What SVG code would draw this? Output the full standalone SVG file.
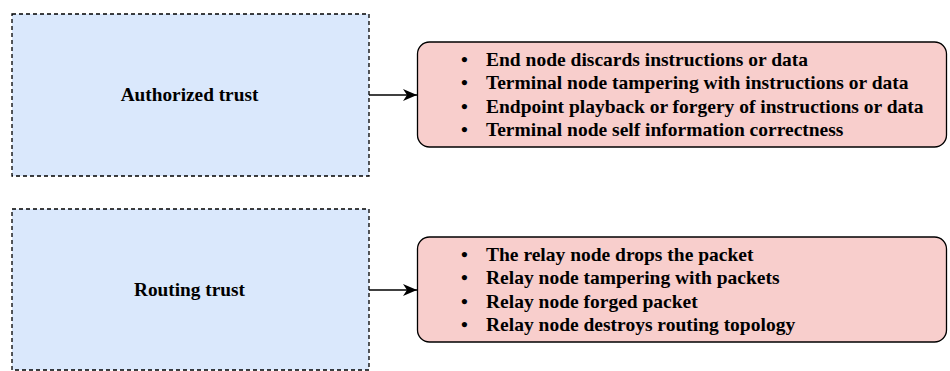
<svg xmlns="http://www.w3.org/2000/svg" width="950" height="371" viewBox="0 0 950 371">
  <defs>
    <style>
      .trust { fill: #dae8fc; stroke: #000000; stroke-width: 1.3; stroke-dasharray: 4 3; }
      .threat { fill: #f8cecc; stroke: #000000; stroke-width: 1.3; }
      .title { font-family: "Liberation Serif", "Times New Roman", serif; font-weight: bold; font-size: 19.3px; fill: #000000; text-anchor: middle; }
      .item { font-family: "Liberation Serif", "Times New Roman", serif; font-weight: bold; font-size: 19.5px; fill: #000000; }
      .conn { stroke: #000000; stroke-width: 1.3; fill: none; }
    </style>
    <marker id="arrow" markerWidth="16" markerHeight="14" refX="14" refY="7" orient="auto" markerUnits="userSpaceOnUse">
      <path d="M0,1 L14,7 L0,13 L4,7 Z" fill="#000000"/>
    </marker>
  </defs>

  <g id="authorized-trust">
    <rect class="trust" x="12" y="14" width="357" height="162"/>
    <text class="title" x="189.5" y="101">Authorized trust</text>
  </g>

  <g id="authorized-threats">
    <rect class="threat" x="417.5" y="42" width="529" height="105" rx="12" ry="12"/>
    <text class="item">
      <tspan x="461" y="66">•</tspan><tspan x="486" y="66">End node discards instructions or data</tspan>
      <tspan x="461" y="89">•</tspan><tspan x="486" y="89">Terminal node tampering with instructions or data</tspan>
      <tspan x="461" y="113">•</tspan><tspan x="486" y="113">Endpoint playback or forgery of instructions or data</tspan>
      <tspan x="461" y="136">•</tspan><tspan x="486" y="136">Terminal node self information correctness</tspan>
    </text>
  </g>

  <g id="routing-trust">
    <rect class="trust" x="12" y="209" width="357" height="161"/>
    <text class="title" x="189.5" y="296">Routing trust</text>
  </g>

  <g id="routing-threats">
    <rect class="threat" x="417.5" y="237" width="529" height="105" rx="12" ry="12"/>
    <text class="item">
      <tspan x="461" y="261">•</tspan><tspan x="486" y="261">The relay node drops the packet</tspan>
      <tspan x="461" y="284">•</tspan><tspan x="486" y="284">Relay node tampering with packets</tspan>
      <tspan x="461" y="308">•</tspan><tspan x="486" y="308">Relay node forged packet</tspan>
      <tspan x="461" y="331">•</tspan><tspan x="486" y="331">Relay node destroys routing topology</tspan>
    </text>
  </g>

  <g id="connectors">
    <line class="conn" x1="369" y1="95" x2="417" y2="95" marker-end="url(#arrow)"/>
    <line class="conn" x1="369" y1="290" x2="417" y2="290" marker-end="url(#arrow)"/>
  </g>
</svg>
